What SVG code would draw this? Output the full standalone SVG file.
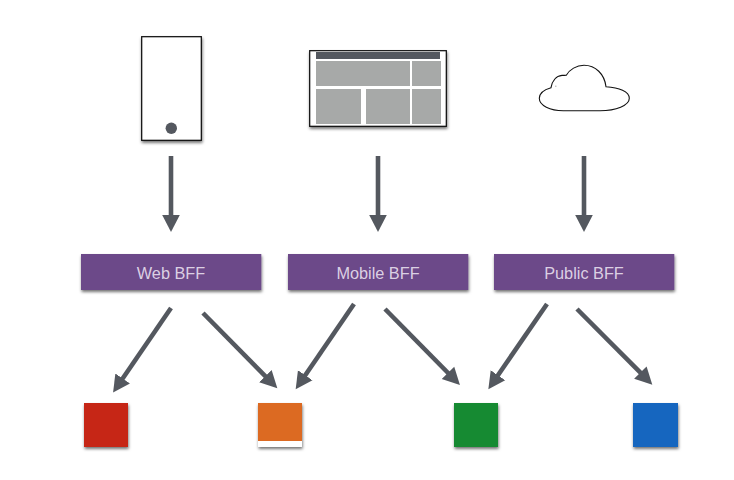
<svg xmlns="http://www.w3.org/2000/svg" width="734" height="480" viewBox="0 0 734 480">
  <style>
    .device { fill: #ffffff; stroke: #000000; stroke-width: 1.2; }
    .pane { fill: #a7a9a8; }
    .dark { fill: #54585f; }
    .bff { fill: #6c4889; }
    .bff-label { font-family: "Liberation Sans", Arial, sans-serif; font-size: 16.3px; fill: #e6deed; fill-opacity: 0.92; text-anchor: middle; }
    .arrow { stroke: #54585f; stroke-width: 4.6; fill: none; marker-end: url(#head); }
  </style>
  <defs>
    <marker id="head" markerUnits="userSpaceOnUse" markerWidth="20" markerHeight="20" refX="10" refY="10" orient="auto" viewBox="0 0 20 20">
      <path d="M0 1.2 L17 10 L0 18.8 Z" fill="#54585f"/>
    </marker>
    <filter id="shadow" x="-15%" y="-15%" width="130%" height="130%">
      <feDropShadow dx="0.6" dy="2" stdDeviation="1.4" flood-color="#000000" flood-opacity="0.55"/>
    </filter>
  </defs>
  <rect width="734" height="480" fill="#ffffff"/>

  <g id="phone">
    <rect class="device" x="141.7" y="36.7" width="59.6" height="103.6" filter="url(#shadow)"/>
    <circle class="dark" cx="171.3" cy="128.3" r="5.7"/>
  </g>

  <g id="browser">
    <rect class="device" x="309.7" y="50.7" width="136.6" height="75.6" filter="url(#shadow)"/>
    <rect class="dark" x="316" y="52" width="124" height="7"/>
    <rect class="pane" x="316" y="61" width="94" height="25"/>
    <rect class="pane" x="412" y="61" width="29" height="25"/>
    <rect class="pane" x="316" y="89" width="45" height="35"/>
    <rect class="pane" x="366" y="89" width="44" height="35"/>
    <rect class="pane" x="412" y="89" width="29" height="35"/>
  </g>

  <g id="cloud">
    <path d="M551 87.700 C552 81 556 76 562 75.400 C563.500 75.300 565 75.400 566.300 75.300 C569.500 69.500 576.500 65.300 584 65.300 C595.500 65.300 604.500 74 606 86.700 C619 87.700 629.300 91.500 629.300 98.300 C629.300 105.500 616 110.700 600 110.700 L563.300 110.700 C550 110.700 539.300 105.500 539.300 98.300 C539.300 93.500 544 89.700 551 87.700 Z" fill="#ffffff" stroke="#111111" stroke-width="1.100"/>
    <path d="M555 86.200 H556.500" stroke="#777777" stroke-width="0.600" fill="none"/>
  </g>

  <g id="connectors">
    <line class="arrow" x1="171" y1="156" x2="171" y2="225"/>
    <line class="arrow" x1="378" y1="156" x2="378" y2="225"/>
    <line class="arrow" x1="584" y1="156" x2="584" y2="225"/>
    <line class="arrow" x1="171" y1="308" x2="117" y2="386.700"/>
    <line class="arrow" x1="203" y1="313" x2="272.400" y2="383.300"/>
    <line class="arrow" x1="354" y1="304" x2="299.600" y2="383.500"/>
    <line class="arrow" x1="385" y1="309" x2="455" y2="380"/>
    <line class="arrow" x1="547" y1="304" x2="492.300" y2="383.500"/>
    <line class="arrow" x1="577" y1="309" x2="647.400" y2="379.700"/>
  </g>

  <g id="web-bff">
    <rect class="bff" x="81" y="254" width="180.300" height="36" filter="url(#shadow)"/>
    <text class="bff-label" x="171" y="279">Web BFF</text>
  </g>
  <g id="mobile-bff">
    <rect class="bff" x="288" y="254" width="180.300" height="36" filter="url(#shadow)"/>
    <text class="bff-label" x="378" y="279">Mobile BFF</text>
  </g>
  <g id="public-bff">
    <rect class="bff" x="494" y="254" width="180.300" height="36" filter="url(#shadow)"/>
    <text class="bff-label" x="584" y="279">Public BFF</text>
  </g>

  <g id="service-red">
    <rect x="84" y="403" width="44" height="44" fill="#c62816" filter="url(#shadow)"/>
  </g>
  <g id="service-orange">
    <rect x="258" y="403" width="44" height="44" fill="#ffffff" filter="url(#shadow)"/>
    <rect x="258" y="403" width="44" height="38" fill="#dc6a22"/>
  </g>
  <g id="service-green">
    <rect x="454" y="403" width="44" height="44" fill="#128a30" filter="url(#shadow)"/>
  </g>
  <g id="service-blue">
    <rect x="633" y="403" width="45" height="44" fill="#1266bf" filter="url(#shadow)"/>
  </g>
</svg>
